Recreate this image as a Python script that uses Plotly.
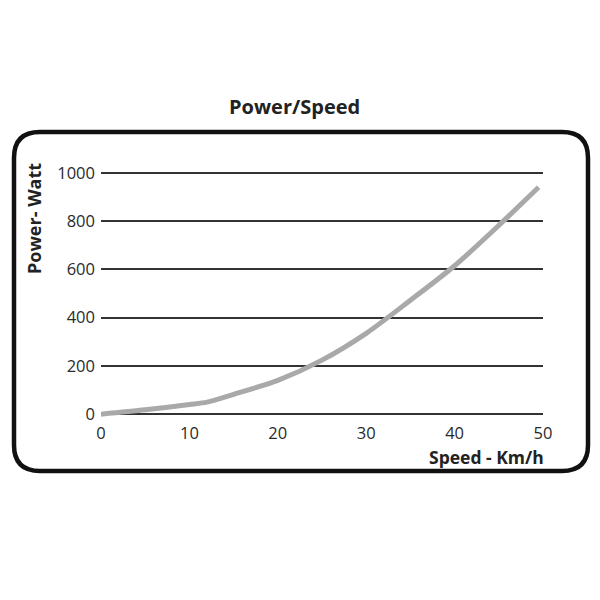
import plotly.graph_objects as go

speed = [0, 5, 10, 12, 15, 20, 25, 30, 35, 40, 45, 49.5]
power = [0, 18, 40, 50, 82, 140, 224, 335, 472, 615, 782, 940]
x_ticks = [0, 10, 20, 30, 40, 50]
y_ticks = [0, 200, 400, 600, 800, 1000]

W, H = 600, 600
OFF = 8  # page body margin offset
L, R, T, B = 101 - OFF, 543 - OFF, 168 - OFF, 419 - OFF  # plot area pixels in figure

def px(x):
    return (x - OFF - L) / (R - L)

def py(y):
    return (B - (y - OFF)) / (B - T)

fig = go.Figure()
fig.add_trace(go.Scatter(
    x=speed, y=power, mode="lines",
    line=dict(color="#a9a9a9", width=5, shape="spline", smoothing=0.8),
    hoverinfo="skip", showlegend=False,
))

# rounded rectangle border (target-page pixel coords)
x0, x1, y0, y1, r = 14, 588, 132, 471, 26
path = (
    f"M {px(x0 + r)},{py(y0)} L {px(x1 - r)},{py(y0)} "
    f"Q {px(x1)},{py(y0)} {px(x1)},{py(y0 + r)} "
    f"L {px(x1)},{py(y1 - r)} Q {px(x1)},{py(y1)} {px(x1 - r)},{py(y1)} "
    f"L {px(x0 + r)},{py(y1)} Q {px(x0)},{py(y1)} {px(x0)},{py(y1 - r)} "
    f"L {px(x0)},{py(y0 + r)} Q {px(x0)},{py(y0)} {px(x0 + r)},{py(y0)} Z"
)
fig.add_shape(type="path", path=path, xref="paper", yref="paper",
              line=dict(color="#111111", width=4.5), layer="above")

font_family = "Open Sans, DejaVu Sans, sans-serif"
fig.add_annotation(text="<b>Power/Speed</b>", x=px(294), y=py(106), xref="paper", yref="paper",
                   showarrow=False, font=dict(family=font_family, size=20, color="#222222"),
                   xanchor="center", yanchor="middle")
fig.add_annotation(text="<b>Power- Watt</b>", x=px(34), y=py(219), xref="paper", yref="paper",
                   showarrow=False, textangle=-90, font=dict(family=font_family, size=18, color="#222222"),
                   xanchor="center", yanchor="middle")
fig.add_annotation(text="<b>Speed - Km/h</b>", x=px(546), y=py(457), xref="paper", yref="paper",
                   showarrow=False, font=dict(family=font_family, size=17.5, color="#222222"),
                   xanchor="right", yanchor="middle")

fig.update_layout(
    width=W, height=H,
    margin=dict(l=L, r=W - R, t=T, b=H - B, pad=0),
    paper_bgcolor="white", plot_bgcolor="white",
    font=dict(family=font_family, size=16.5, color="#2a2a2a"),
    xaxis=dict(range=[0, 50], tickvals=x_ticks, showgrid=False, zeroline=False,
               showline=False, ticks="", ticklabelstandoff=2, fixedrange=True),
    yaxis=dict(range=[-20, 1020], tickvals=y_ticks, showgrid=True, gridcolor="#333333",
               gridwidth=2, zeroline=False, showline=False, ticks="",
               ticklabelstandoff=5, fixedrange=True),
)

fig.write_html("out.html")
